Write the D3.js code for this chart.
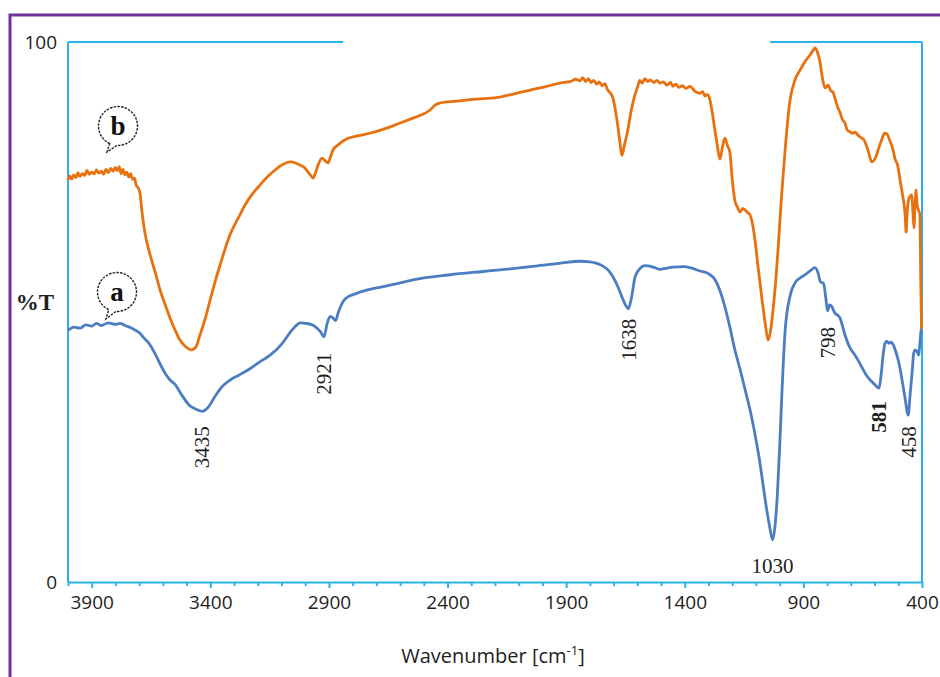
<!DOCTYPE html>
<html>
<head>
<meta charset="utf-8">
<script src="https://cdn.jsdelivr.net/npm/d3@7"></script>
<style>
  body { margin: 0; background: #fff; }
  svg { display: block; }
</style>
</head>
<body>
<svg id="chart" width="940" height="677"></svg>
<script>
// FTIR spectra: (a) blue trace, (b) orange trace, %T vs wavenumber
const spectrumA_wn = [4000,3975,3950,3925,3900,3880,3860,3830,3800,3780,3760,3735,3715,3700,3680,3654,3630,3612,3590,3570,3549,3520,3490,3460,3435,3410,3380,3350,3317,3280,3233,3190,3148,3100,3064,3040,3022,3000,2975,2950,2935,2921,2908,2895,2883,2872,2860,2832,2780,2727,2660,2600,2500,2390,2250,2179,2050,1968,1900,1842,1800,1770,1745,1720,1700,1680,1665,1650,1638,1625,1610,1590,1568,1547,1520,1505,1450,1400,1378,1336,1300,1273,1252,1230,1210,1190,1167,1145,1125,1100,1085,1070,1055,1042,1030,1020,1010,1000,990,977,956,935,914,890,872,851,838,828,815,805,798,790,780,770,746,725,704,682,661,630,600,581,572,564,556,548,540,530,520,510,497,484,472,458,450,442,435,428,420,414,408,404,400];
const spectrumA_T  = [46.6,47.2,47.0,47.6,47.4,47.9,47.5,48.0,47.7,47.9,47.5,47.1,46.6,46.2,45.2,43.9,42.0,40.4,38.6,37.4,36.6,34.6,32.8,32.0,31.6,32.3,34.4,36.2,37.4,38.3,39.5,40.8,42.0,44.0,46.2,47.4,48.0,47.9,47.7,47.0,46.3,45.4,47.8,49.2,48.9,48.4,50.0,52.4,53.5,54.2,54.8,55.4,56.3,56.9,57.5,57.8,58.4,58.8,59.2,59.4,59.3,59.0,58.5,57.6,56.3,54.5,52.8,51.3,50.6,52.6,56.4,58.0,58.6,58.5,58.1,57.9,58.3,58.4,58.2,57.6,57.1,56.0,54.0,50.8,47.2,43.2,39.4,35.5,31.9,26.4,22.6,18.0,13.5,10.2,7.8,10.2,16.0,25.0,35.5,46.5,53.0,55.4,56.3,57.0,57.6,58.2,57.2,55.6,55.3,52.4,50.2,51.3,51.0,50.0,48.9,45.8,43.4,42.0,40.4,38.0,36.6,35.9,38.5,42.0,44.2,44.6,44.2,44.4,43.8,42.6,40.5,37.4,34.2,30.9,34.8,38.6,42.4,43.0,42.6,42.0,44.6,46.6,46.7];

const spectrumB_wn = [4000,3992,3984,3976,3966,3958,3950,3940,3930,3920,3910,3900,3890,3880,3870,3860,3850,3840,3830,3820,3810,3800,3792,3784,3776,3768,3760,3752,3744,3736,3728,3720,3712,3704,3696,3688,3675,3654,3630,3612,3590,3570,3548,3528,3505,3480,3460,3444,3420,3401,3380,3359,3317,3280,3254,3220,3191,3160,3127,3095,3064,3040,3022,3000,2988,2975,2967,2955,2946,2929,2916,2904,2893,2883,2860,2832,2780,2727,2660,2600,2540,2474,2450,2432,2400,2350,2314,2250,2179,2120,2052,1990,1926,1880,1860,1842,1830,1818,1806,1795,1784,1772,1760,1748,1737,1726,1715,1705,1695,1686,1675,1665,1655,1640,1625,1610,1598,1590,1580,1568,1556,1545,1530,1518,1505,1490,1475,1460,1450,1438,1425,1410,1395,1378,1360,1345,1336,1325,1315,1305,1294,1285,1273,1262,1252,1241,1231,1220,1210,1200,1189,1178,1167,1156,1146,1135,1125,1114,1104,1090,1074,1060,1049,1038,1028,1017,1007,992,977,966,956,935,914,893,872,860,851,840,830,820,809,796,785,775,767,756,746,735,725,715,704,693,682,671,661,645,628,612,594,582,569,558,548,537,526,520,514,503,493,482,471,467,463,457,451,444,438,434,430,425,421,415,409,405,402,400];
const spectrumB_T  = [74.4,75.2,74.6,75.4,74.9,75.8,75.1,75.6,75.3,76.2,75.5,75.9,75.6,76.3,75.7,76.1,75.5,76.4,75.8,76.6,76.1,76.8,76.2,76.9,75.6,76.4,75.4,75.9,75.0,75.6,74.6,74.8,73.4,73.0,71.8,68.5,64.5,60.6,57.0,54.1,51.3,48.9,46.6,44.8,43.6,43.0,43.6,45.7,49.0,52.2,55.6,58.7,64.3,67.6,69.8,72.0,73.5,75.0,76.3,77.3,77.8,77.6,77.2,76.6,75.9,75.2,74.8,76.0,77.2,78.5,78.0,77.6,78.8,80.0,81.0,81.9,82.6,83.1,84.0,85.0,86.0,87.4,88.4,88.7,88.9,89.1,89.3,89.5,89.8,90.4,91.1,91.7,92.4,92.7,93.1,92.8,93.4,92.7,93.2,92.5,92.9,92.2,92.6,91.9,92.3,91.2,90.6,89.9,88.0,85.6,82.0,79.0,80.8,83.7,87.5,90.2,91.8,92.9,92.4,93.2,92.7,93.0,92.5,92.9,92.4,92.6,92.0,92.5,91.8,92.2,91.6,91.9,91.4,91.8,91.0,90.6,90.5,90.8,90.0,90.3,89.3,87.2,83.7,80.6,78.3,80.6,82.2,80.8,79.6,74.6,70.7,69.4,68.5,69.2,68.9,68.4,68.0,66.2,63.3,58.0,52.2,47.6,44.8,46.6,50.4,55.5,61.5,71.5,80.0,85.5,89.3,93.0,94.8,96.4,97.6,98.4,98.9,98.0,96.3,93.4,91.5,92.0,91.0,90.7,89.6,88.0,87.0,85.6,85.0,83.7,83.4,83.1,83.3,82.8,82.4,81.9,80.0,77.8,78.8,80.4,82.0,83.1,83.0,81.9,80.6,79.6,78.4,77.2,74.6,71.7,68.0,64.8,68.0,70.7,71.4,71.7,68.4,65.6,69.0,72.6,70.0,68.9,68.0,55.0,46.7];

// axis ticks and labels
const xMinorTicks = d3.range(4000, 399, -100);
const xMajorTicks = [3900, 3400, 2900, 2400, 1900, 1400, 900, 400];
const yTickLabels = [{v: 100, t: "100"}, {v: 0, t: "0"}];

// assigned bands on trace (a)
const peakLabels = [
  {wn: 3435, text: "3435", bold: false, rotate: true,  gap: 15},
  {wn: 2921, text: "2921", bold: false, rotate: true,  gap: 16},
  {wn: 1638, text: "1638", bold: false, rotate: true,  gap: 10},
  {wn: 1030, text: "1030", bold: false, rotate: false, gap: 33},
  {wn: 798,  text: "798",  bold: false, rotate: true,  gap: 16},
  {wn: 581,  text: "581",  bold: true,  rotate: true,  gap: 13},
  {wn: 458,  text: "458",  bold: false, rotate: true,  gap: 11}
];

const traceTags = [
  {tag: "b", cx: 118, cy: 126, tipX: 107, tipY: 152},
  {tag: "a", cx: 117, cy: 292, tipX: 106, tipY: 319}
];

const svg = d3.select("#chart");
const axisColor = "#29b3ea";
const blue = "#4b7ec0";
const orange = "#e8710f";

const x = d3.scaleLinear().domain([4000, 400]).range([68, 922]);
const y = d3.scaleLinear().domain([0, 100]).range([582, 42]);

// outer frame
svg.append("rect")
  .attr("x", 10).attr("y", 15).attr("width", 960).attr("height", 700)
  .attr("fill", "none").attr("stroke", "#7030a0").attr("stroke-width", 3);

// plot frame: left, right, partial top
const frame = svg.append("g").attr("stroke", axisColor).attr("stroke-width", 2).attr("fill", "none");
frame.append("line").attr("x1", x(4000)).attr("x2", x(4000)).attr("y1", y(100)).attr("y2", y(0));
frame.append("line").attr("x1", x(400)).attr("x2", x(400)).attr("y1", y(100)).attr("y2", y(0));
frame.append("line").attr("x1", x(4000)).attr("x2", x(2840)).attr("y1", y(100)).attr("y2", y(100));
frame.append("line").attr("x1", x(1040)).attr("x2", x(400)).attr("y1", y(100)).attr("y2", y(100));

// bottom axis
const xAxis = d3.axisBottom(x)
  .tickValues(xMinorTicks)
  .tickSize(4)
  .tickSizeOuter(0)
  .tickPadding(10)
  .tickFormat(d => xMajorTicks.includes(d) ? d : "");
const gx = svg.append("g").attr("transform", `translate(0,${y(0)})`).call(xAxis);
gx.select(".domain").attr("stroke", axisColor).attr("stroke-width", 2);
gx.selectAll(".tick line").attr("stroke", axisColor).attr("stroke-width", 2)
  .attr("y2", d => xMajorTicks.includes(d) ? 6 : 4);
gx.selectAll(".tick text")
  .attr("font-family", "'Open Sans', sans-serif")
  .attr("font-size", 19).attr("fill", "#1e1e1e");

// y tick labels
svg.selectAll(".ylab").data(yTickLabels).join("text")
  .attr("class", "ylab")
  .attr("x", 57).attr("y", d => y(d.v))
  .attr("dy", "0.35em")
  .attr("text-anchor", "end")
  .attr("font-family", "'Open Sans', sans-serif")
  .attr("font-size", 19).attr("fill", "#1e1e1e")
  .text(d => d.t);

// axis titles
svg.append("text")
  .attr("x", 35).attr("y", 302).attr("dy", "0.35em")
  .attr("text-anchor", "middle")
  .attr("font-family", "'Liberation Serif', serif").attr("font-weight", "bold")
  .attr("font-size", 23).attr("fill", "#1e1e1e")
  .text("%T");

const xt = svg.append("text")
  .attr("x", 493).attr("y", 663)
  .attr("text-anchor", "middle")
  .attr("font-family", "'Open Sans', sans-serif")
  .attr("font-size", 20).attr("fill", "#1e1e1e");
xt.append("tspan").text("Wavenumber [cm");
xt.append("tspan").attr("font-size", 13).attr("dy", -8).text("-1");
xt.append("tspan").attr("dy", 8).text("]");

// spectra
const line = d3.line()
  .x(d => x(d[0]))
  .y(d => y(d[1]))
  .curve(d3.curveMonotoneX);

const traceB = d3.zip(spectrumB_wn, spectrumB_T);
const traceA = d3.zip(spectrumA_wn, spectrumA_T);

svg.append("path").datum(traceB)
  .attr("d", line).attr("fill", "none")
  .attr("stroke", orange).attr("stroke-width", 2.8).attr("stroke-linejoin", "round");
svg.append("path").datum(traceA)
  .attr("d", line).attr("fill", "none")
  .attr("stroke", blue).attr("stroke-width", 2.8).attr("stroke-linejoin", "round");

// band labels under trace (a)
const tValueAt = wn => spectrumA_T[spectrumA_wn.indexOf(wn)];
peakLabels.forEach(p => {
  const px = x(p.wn);
  const py = y(tValueAt(p.wn)) + p.gap;
  const t = svg.append("text")
    .attr("font-family", "'Liberation Serif', serif")
    .attr("font-size", 21)
    .attr("font-weight", p.bold ? "bold" : "normal")
    .attr("fill", "#1e1e1e")
    .text(p.text);
  if (p.rotate) {
    t.attr("transform", `translate(${px},${py}) rotate(-90)`)
      .attr("text-anchor", "end").attr("dy", "0.35em");
  } else {
    t.attr("x", px).attr("y", py).attr("text-anchor", "middle");
  }
});

// speech-bubble tags naming each trace
traceTags.forEach(tg => {
  const r = 19.5;
  const a1 = Math.PI * 0.64, a2 = Math.PI * 0.52;
  const p1 = [tg.cx + r * Math.cos(a1), tg.cy + r * Math.sin(a1)];
  const p2 = [tg.cx + r * Math.cos(a2), tg.cy + r * Math.sin(a2)];
  svg.append("path")
    .attr("d", `M${p1[0]},${p1[1]} A${r},${r} 0 1 1 ${p2[0]},${p2[1]} L${tg.tipX},${tg.tipY} Z`)
    .attr("fill", "#fff").attr("stroke", "#222").attr("stroke-width", 1.4)
    .attr("stroke-dasharray", "2.5,1.2");
  svg.append("text")
    .attr("x", tg.cx).attr("y", tg.cy).attr("dy", "0.35em")
    .attr("text-anchor", "middle")
    .attr("font-family", "'Liberation Serif', serif").attr("font-weight", "bold")
    .attr("font-size", 27).attr("fill", "#111")
    .text(tg.tag);
});
</script>
</body>
</html>
